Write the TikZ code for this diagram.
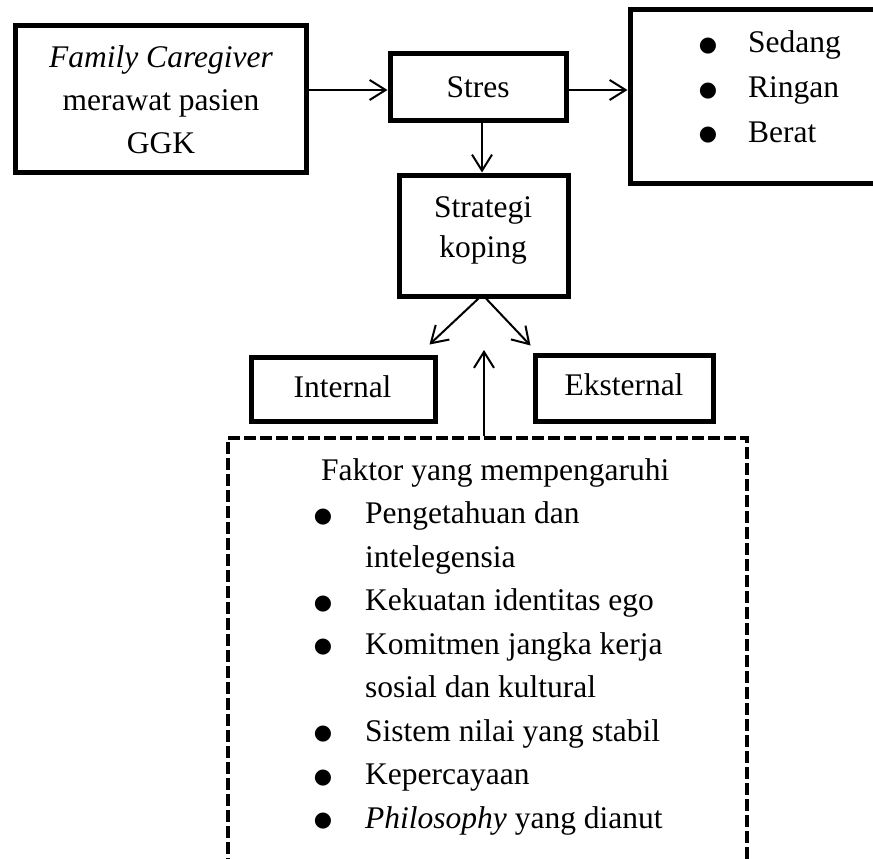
\documentclass[tikz,border=0pt]{standalone}
\usepackage{fontspec}
\setmainfont{Liberation Serif}
\newfontfamily\symfont{DejaVu Sans}
\usetikzlibrary{arrows.meta}
\newcommand{\bigbul}{\raisebox{1.5pt}{\symfont\fontsize{21}{21}\selectfont ●}}
\begin{document}
\begin{tikzpicture}[x=1pt,y=-1pt,
  box/.style={draw,rectangle,line width=5pt,inner sep=0pt},
  dbox/.style={draw,rectangle,line width=4pt,dash pattern=on 12pt off 4pt,inner sep=0pt},
  bigtxt/.style={font=\fontsize{31.5}{42.5}\selectfont,inner sep=0pt,anchor=base},
  bigwest/.style={font=\fontsize{31.5}{42.5}\selectfont,inner sep=0pt,anchor=base west},
  conn/.style={line width=2pt,-{Straight Barb[length=16pt,width=20pt]}}
]
\useasboundingbox (0,0) rectangle (873,859);

% boxes
\node[box,minimum width=291pt,minimum height=146pt] (fam) at (160.5,99) {};
\node[box,minimum width=176pt,minimum height=66pt] (stres) at (478,87) {};
\node[box,minimum width=270pt,minimum height=173pt] (lvl) at (765,96.5) {};
\node[box,minimum width=169pt,minimum height=121pt] (strat) at (483.5,235.5) {};
\node[box,minimum width=184pt,minimum height=64pt] (int) at (343,389) {};
\node[box,minimum width=178pt,minimum height=66pt] (eks) at (624,388) {};
\node[dbox,minimum width=519pt,minimum height=462pt] (fac) at (487.5,669) {};

% texts
\node[bigtxt] (t1a) at (161,68) {\textit{Family Caregiver}};
\node[bigtxt] (t1b) at (161,110.5) {merawat pasien};
\node[bigtxt] (t1c) at (161,153) {GGK};
\node[bigtxt] (tst) at (478,97) {Stres};
\node[bigtxt] (b1) at (708,53) {\bigbul};
\node[bigtxt] (b2) at (708,98) {\bigbul};
\node[bigtxt] (b3) at (708,142) {\bigbul};
\node[bigwest] (l1) at (748,53) {Sedang};
\node[bigwest] (l2) at (748,98) {Ringan};
\node[bigwest] (l3) at (748,142) {Berat};
\node[bigtxt] (tsa) at (483,217) {Strategi};
\node[bigtxt] (tsb) at (483,257) {koping};
\node[bigtxt] (tin) at (342.5,397) {Internal};
\node[bigtxt] (tek) at (624,395) {Eksternal};

\node[bigwest] (fh) at (321,480) {Faktor yang mempengaruhi};
\node[bigtxt] (fb1) at (323,523.5) {\bigbul};
\node[bigwest] (f1a) at (365,523.5) {Pengetahuan dan};
\node[bigwest] (f1b) at (365,567) {intelegensia};
\node[bigtxt] (fb2) at (323,610.5) {\bigbul};
\node[bigwest] (f2) at (365,610.5) {Kekuatan identitas ego};
\node[bigtxt] (fb3) at (323,654) {\bigbul};
\node[bigwest] (f3a) at (365,654) {Komitmen jangka kerja};
\node[bigwest] (f3b) at (365,697.5) {sosial dan kultural};
\node[bigtxt] (fb4) at (323,741) {\bigbul};
\node[bigwest] (f4) at (365,741) {Sistem nilai yang stabil};
\node[bigtxt] (fb5) at (323,784.5) {\bigbul};
\node[bigwest] (f5) at (365,784.5) {Kepercayaan};
\node[bigtxt] (fb6) at (323,828) {\bigbul};
\node[bigwest] (f6) at (365,828) {\textit{Philosophy} yang dianut};

% connectors
\coordinate (a1) at ([yshift=9pt]fam.east);
\draw[conn] (a1) -- (a1 -| stres.west);
\coordinate (a2) at ([yshift=-3pt]stres.east);
\draw[conn] (a2) -- (a2 -| lvl.west);
\coordinate (a3) at ([xshift=4pt]stres.south);
\draw[conn] (a3) -- (a3 |- strat.north);
\draw[conn] ([xshift=-5pt]strat.south) -- ([xshift=-8pt,yshift=10pt]int.north east);
\draw[conn] ([xshift=2.5pt]strat.south) -- ([xshift=-2pt,yshift=7pt]eks.north west);
\coordinate (upend) at (484,350);
\draw[conn] (fac.north -| upend) -- (upend);
\end{tikzpicture}
\end{document}
